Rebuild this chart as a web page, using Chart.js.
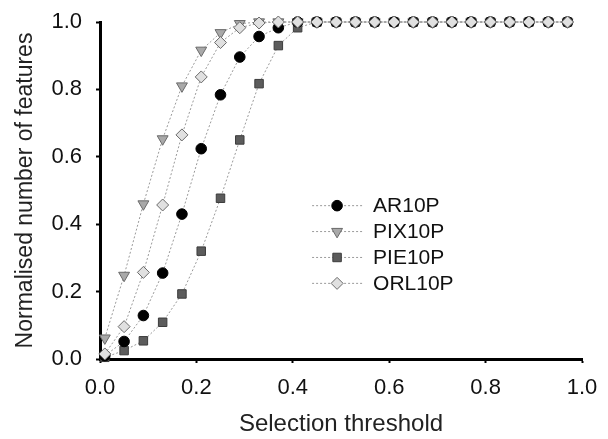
<!DOCTYPE html>
<html>
<head>
<meta charset="utf-8">
<script src="https://cdn.jsdelivr.net/npm/chart.js@4/dist/chart.umd.min.js"></script>
<style>
  html, body { margin: 0; padding: 0; background: #fff; }
  #wrap { width: 608px; height: 439px; }
</style>
</head>
<body>
<div id="wrap"><canvas id="chart" width="608" height="439"></canvas></div>
<script>
const thresholds = [0.01, 0.05, 0.09, 0.13, 0.17, 0.21, 0.25, 0.29, 0.33, 0.37, 0.41, 0.45, 0.49,
  0.53, 0.57, 0.61, 0.65, 0.69, 0.73, 0.77, 0.81, 0.85, 0.89, 0.93, 0.97];
const seriesNames = ['AR10P', 'PIX10P', 'PIE10P', 'ORL10P'];
const ar10p = [0.01, 0.052, 0.129, 0.255, 0.430, 0.624, 0.784, 0.896, 0.957, 0.983, 1, 1, 1,
  1, 1, 1, 1, 1, 1, 1, 1, 1, 1, 1, 1];
const pix10p = [0.062, 0.248, 0.46, 0.653, 0.81, 0.916, 0.968, 0.995, 1, 1, 1, 1, 1,
  1, 1, 1, 1, 1, 1, 1, 1, 1, 1, 1, 1];
const pie10p = [0.005, 0.025, 0.054, 0.109, 0.193, 0.32, 0.477, 0.65, 0.817, 0.93, 0.983, 1, 1,
  1, 1, 1, 1, 1, 1, 1, 1, 1, 1, 1, 1];
const orl10p = [0.015, 0.096, 0.257, 0.457, 0.665, 0.837, 0.939, 0.983, 0.997, 1, 1, 1, 1,
  1, 1, 1, 1, 1, 1, 1, 1, 1, 1, 1, 1];
const xTicks = [0, 0.2, 0.4, 0.6, 0.8, 1.0];
const yTicks = [0, 0.2, 0.4, 0.6, 0.8, 1.0];

const FONT = "'Liberation Sans', Arial, sans-serif";

function toPoints(values) {
  return values.map((v, i) => ({ x: thresholds[i], y: v }));
}

function makeDataset(label, values, style) {
  return Object.assign({
    label: label,
    data: toPoints(values),
    showLine: true,
    borderColor: '#9a9a9a',
    borderWidth: 1,
    borderDash: [2, 2],
    pointBorderWidth: 1,
    pointHoverRadius: 0,
    clip: false,
  }, style);
}

const datasets = [
  makeDataset(seriesNames[0], ar10p, {
    pointStyle: 'circle', pointRadius: 5.3,
    pointBackgroundColor: '#000', pointBorderColor: '#000', order: 1,
  }),
  makeDataset(seriesNames[1], pix10p, {
    pointStyle: 'triangle', pointRotation: 180, pointRadius: 6.3,
    pointBackgroundColor: '#a9a9a9', pointBorderColor: '#6a6a6a', order: 2,
  }),
  makeDataset(seriesNames[2], pie10p, {
    pointStyle: 'rect', pointRadius: 6,
    pointBackgroundColor: '#5c5c5c', pointBorderColor: '#3c3c3c', order: 3,
  }),
  makeDataset(seriesNames[3], orl10p, {
    pointStyle: 'rectRot', pointRadius: 6,
    pointBackgroundColor: '#e0e0e0', pointBorderColor: '#6a6a6a', order: 0,
  }),
];

// legend drawn inside the plot: dotted sample line, marker, name
const insideLegend = {
  id: 'insideLegend',
  afterDraw(chart) {
    const c = chart.ctx;
    const area = chart.chartArea;
    const x0 = area.left + 0.44 * (area.right - area.left);
    const y0 = area.top + 0.545 * (area.bottom - area.top);
    const rowH = 25.9;
    c.save();
    chart.data.datasets.forEach((ds, i) => {
      const y = y0 + i * rowH;
      c.beginPath();
      c.setLineDash(ds.borderDash);
      c.strokeStyle = ds.borderColor;
      c.lineWidth = ds.borderWidth;
      c.moveTo(x0, y);
      c.lineTo(x0 + 50, y);
      c.stroke();
      c.setLineDash([]);
      c.fillStyle = ds.pointBackgroundColor;
      c.strokeStyle = ds.pointBorderColor;
      c.lineWidth = ds.pointBorderWidth;
      Chart.helpers.drawPoint(c, {
        pointStyle: ds.pointStyle,
        rotation: ds.pointRotation || 0,
        radius: ds.pointRadius,
        borderWidth: ds.pointBorderWidth,
      }, x0 + 25, y);
      c.fillStyle = '#111';
      c.font = '21px ' + FONT;
      c.textBaseline = 'middle';
      c.textAlign = 'left';
      c.fillText(ds.label, x0 + 61, y + 1);
    });
    c.restore();
  },
};

const ctx = document.getElementById('chart').getContext('2d');
new Chart(ctx, {
  type: 'scatter',
  data: { datasets: datasets },
  options: {
    responsive: false,
    animation: false,
    events: [],
    layout: { padding: { left: 0, right: 26, top: 22, bottom: 0 } },
    plugins: {
      legend: { display: false },
      tooltip: { enabled: false },
    },
    scales: {
      x: {
        type: 'linear',
        min: 0,
        max: 1,
        afterBuildTicks(scale) { scale.ticks = xTicks.map(v => ({ value: v })); },
        afterFit(scale) {
          scale.height = 80;
          scale.paddingLeft = 0;
          scale.paddingRight = 0;
        },
        border: { color: '#000', width: 3 },
        grid: { drawOnChartArea: false, color: '#000', tickLength: 4, tickWidth: 2 },
        ticks: {
          color: '#111', padding: 12,
          font: { family: FONT, size: 22 },
          callback: v => Number(v).toFixed(1),
        },
        title: {
          display: true, text: 'Selection threshold', color: '#222',
          font: { family: FONT, size: 24 }, padding: { top: 0, bottom: 0 },
        },
      },
      y: {
        type: 'linear',
        min: 0,
        max: 1,
        afterBuildTicks(scale) { scale.ticks = yTicks.map(v => ({ value: v })); },
        afterFit(scale) {
          scale.width = 100;
          scale.paddingTop = 0;
          scale.paddingBottom = 0;
        },
        border: { color: '#000', width: 3 },
        grid: { drawOnChartArea: false, color: '#000', tickLength: 4, tickWidth: 2 },
        ticks: {
          color: '#111', padding: 14,
          font: { family: FONT, size: 22 },
          callback: v => Number(v).toFixed(1),
        },
        title: {
          display: true, text: 'Normalised number of features', color: '#222',
          font: { family: FONT, size: 23 }, padding: { top: 12, bottom: 0 },
        },
      },
    },
  },
  plugins: [insideLegend],
});
</script>
</body>
</html>
